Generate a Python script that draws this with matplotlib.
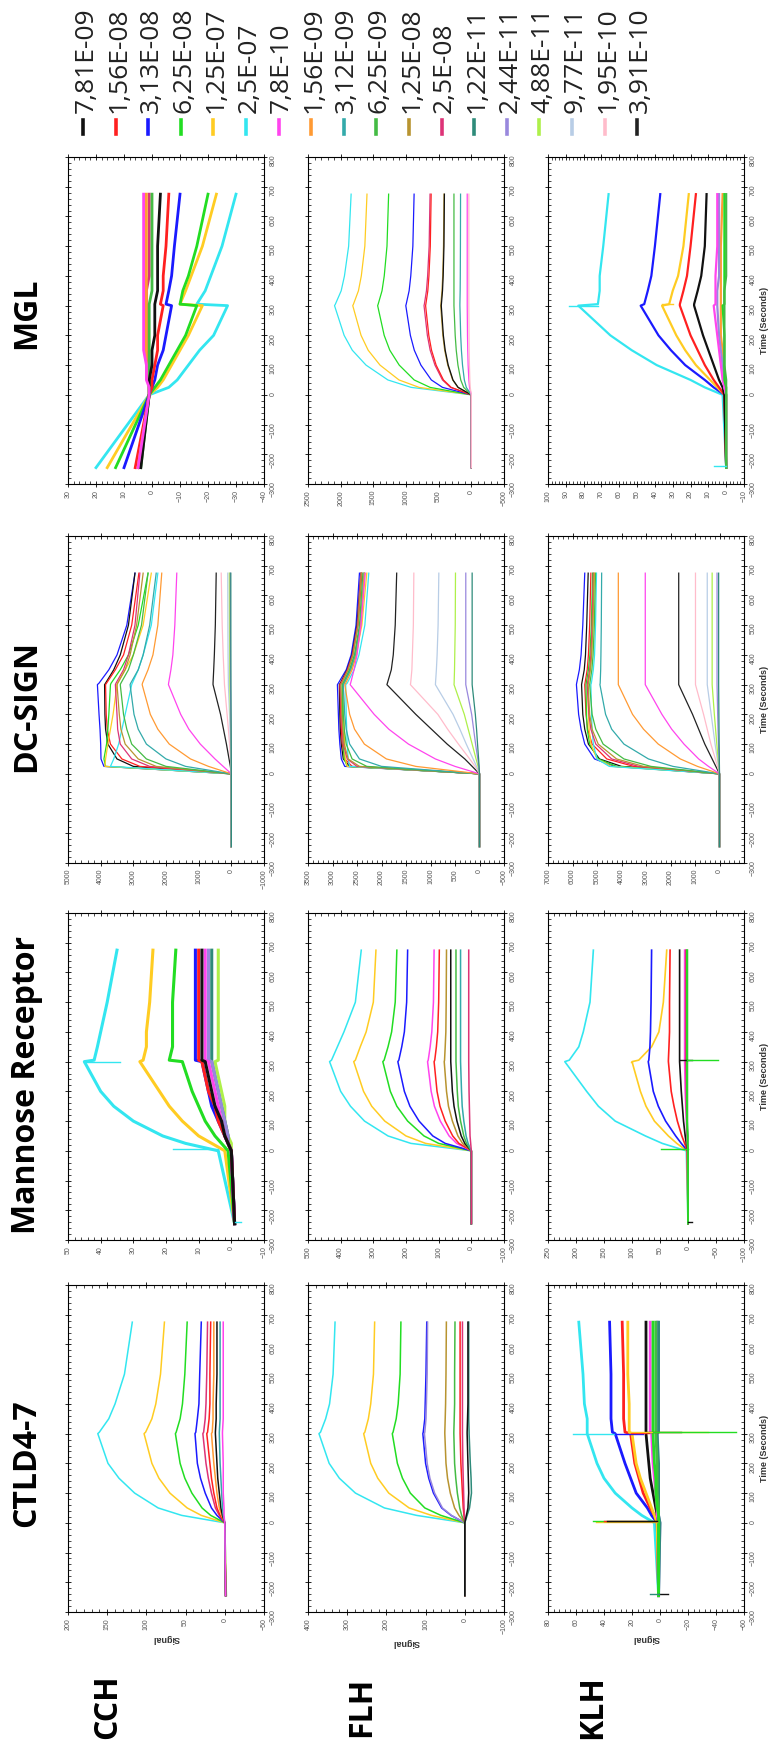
import matplotlib
matplotlib.use("Agg")
import matplotlib.pyplot as plt
from matplotlib.lines import Line2D
from matplotlib.ticker import MultipleLocator, AutoMinorLocator

plt.rcParams["font.family"] = ["Liberation Sans", "DejaVu Sans"]

FIG_W, FIG_H = 771, 1747

# sampling times (s) shared by every sensorgram
TIME = [-245, 0, 25, 50, 100, 150, 200, 300, 305, 350, 400, 500, 675]

conc_labels = ["7,81E-09", "1,56E-08", "3,13E-08", "6,25E-08", "1,25E-07", "2,5E-07",
               "7,8E-10", "1,56E-09", "3,12E-09", "6,25E-09", "1,25E-08", "2,5E-08",
               "1,22E-11", "2,44E-11", "4,88E-11", "9,77E-11", "1,95E-10", "3,91E-10"]
conc_colors = ["#111111", "#ff2020", "#1a1aff", "#22dd22", "#ffcc22", "#33e6f0",
               "#ff44ee", "#ff9a33", "#33aaaa", "#44bb44", "#b89430", "#dd3377",
               "#2e8b7a", "#9988dd", "#aef04a", "#b8cde6", "#ffbccb", "#222222"]

receptors = ["MGL", "DC-SIGN", "Mannose Receptor", "CTLD4-7"]
glycans = ["CCH", "FLH", "KLH"]

# signal axis (left value, right value) and labelled ticks per panel
signal_limits = {
    ("MGL", "CCH"): (30, -40), ("MGL", "FLH"): (2500, -500), ("MGL", "KLH"): (100, -10),
    ("DC-SIGN", "CCH"): (5000, -1000), ("DC-SIGN", "FLH"): (3500, -500), ("DC-SIGN", "KLH"): (7000, -1000),
    ("Mannose Receptor", "CCH"): (50, -10), ("Mannose Receptor", "FLH"): (500, -100),
    ("Mannose Receptor", "KLH"): (250, -100),
    ("CTLD4-7", "CCH"): (200, -50), ("CTLD4-7", "FLH"): (400, -100), ("CTLD4-7", "KLH"): (80, -60),
}
signal_ticks = {
    ("MGL", "CCH"): [30, 20, 10, 0, -10, -20, -30, -40],
    ("MGL", "FLH"): [2500, 2000, 1500, 1000, 500, 0, -500],
    ("MGL", "KLH"): [100, 90, 80, 70, 60, 50, 40, 30, 20, 10, 0, -10],
    ("DC-SIGN", "CCH"): [5000, 4000, 3000, 2000, 1000, 0, -1000],
    ("DC-SIGN", "FLH"): [3500, 3000, 2500, 2000, 1500, 1000, 500, 0, -500],
    ("DC-SIGN", "KLH"): [7000, 6000, 5000, 4000, 3000, 2000, 1000, 0],
    ("Mannose Receptor", "CCH"): [50, 40, 30, 20, 10, 0, -10],
    ("Mannose Receptor", "FLH"): [500, 400, 300, 200, 100, 0, -100],
    ("Mannose Receptor", "KLH"): [250, 200, 150, 100, 50, 0, -50, -100],
    ("CTLD4-7", "CCH"): [200, 150, 100, 50, 0, -50],
    ("CTLD4-7", "FLH"): [400, 300, 200, 100, 0, -100],
    ("CTLD4-7", "KLH"): [80, 60, 40, 20, 0, -20, -40, -60],
}

# sensorgrams: (concentration index, signal at each TIME point)
mgl_cch = [
    (5, [20, 1, -6, -9, -13, -17, -22, -27, -16, -19, -21, -25, -30]),
    (4, [16, 1, -2, -4, -7, -10, -13, -18, -10, -12, -14, -18, -23]),
    (3, [13, 1, -1, -3, -6, -9, -12, -16, -10, -11, -13, -16, -20]),
    (2, [10, 1, 0, -1, -2, -4, -5, -7, -5, -6, -7, -8, -10]),
    (1, [6, 1, 0, 0, -1, -2, -2, -4, -3, -4, -4, -5, -6]),
    (11, [5, 1, 1, 1, 1, 2, 2, 2, 2, 2, 1, 1, 1]),
    (7, [5, 1, 1, 1, 2, 2, 2, 2, 2, 2, 2, 2, 2]),
    (9, [4, 1, 1, 1, 1, 1, 1, 1, 1, 0, 0, 0, 0]),
    (0, [4, 1, 1, 1, 0, 0, -1, -1, -1, -2, -2, -2, -3]),
    (6, [5, 1, 1, 2, 2, 3, 3, 3, 3, 3, 3, 3, 3]),
]
mgl_flh = [
    (5, [0, 0, 921, 1277, 1612, 1822, 1947, 2094, 2081, 1992, 1942, 1878, 1840]),
    (4, [0, 0, 799, 1107, 1398, 1579, 1688, 1815, 1804, 1728, 1684, 1630, 1597]),
    (3, [0, 0, 631, 875, 1104, 1248, 1334, 1434, 1426, 1367, 1333, 1291, 1266]),
    (2, [0, 0, 441, 612, 772, 873, 933, 1003, 997, 952, 927, 895, 876]),
    (11, [0, 0, 319, 442, 557, 630, 673, 724, 719, 687, 669, 646, 632]),
    (1, [0, 0, 308, 427, 539, 609, 651, 700, 696, 666, 649, 628, 615]),
    (10, [0, 0, 206, 286, 361, 408, 436, 469, 466, 449, 438, 426, 418]),
    (0, [0, 0, 202, 281, 354, 400, 428, 460, 458, 441, 431, 419, 412]),
    (9, [0, 0, 117, 162, 205, 231, 247, 266, 266, 266, 266, 266, 266]),
    (8, [0, 0, 77, 107, 135, 152, 163, 175, 175, 171, 169, 167, 165]),
    (6, [0, 0, 28, 38, 49, 55, 59, 63, 63, 63, 63, 63, 63]),
    (16, [0, 0, 17, 23, 29, 33, 35, 38, 38, 38, 38, 38, 38]),
]
mgl_klh = [
    (5, [0, 2, 12, 20, 39, 53, 65, 83, 72, 71, 71, 69, 66]),
    (2, [0, 1, 7, 12, 23, 31, 38, 48, 46, 44, 42, 40, 37]),
    (4, [0, 1, 5, 9, 17, 23, 28, 36, 32, 30, 27, 24, 21]),
    (1, [0, 1, 4, 7, 12, 16, 20, 26, 26, 24, 22, 20, 17]),
    (0, [0, 1, 2, 4, 7, 10, 13, 18, 18, 16, 14, 12, 11]),
    (7, [0, 0, 1, 1, 2, 2, 3, 3, 3, 3, 3, 3, 2]),
    (13, [0, 0, 1, 1, 2, 3, 4, 5, 5, 5, 4, 4, 4]),
    (6, [0, 0, 1, 2, 3, 4, 5, 7, 6, 6, 6, 5, 5]),
    (3, [0, 0, 0, 1, 1, 1, 1, 2, 1, 1, 1, 1, 1]),
    (9, [0, 0, 0, 0, 1, 1, 1, 1, 1, 1, 0, 0, 0]),
]
dc_cch = [
    (2, [0, 0, 3900, 3990, 4000, 4020, 4050, 4100, 4050, 3750, 3500, 3200, 2950]),
    (0, [0, 0, 3000, 3500, 3780, 3850, 3870, 3880, 3850, 3600, 3400, 3150, 2950]),
    (1, [0, 0, 2800, 3350, 3700, 3800, 3830, 3850, 3820, 3550, 3300, 3050, 2830]),
    (3, [0, 0, 3850, 3900, 3820, 3780, 3750, 3700, 3680, 3400, 3150, 2850, 2550]),
    (4, [0, 0, 3870, 3850, 3780, 3700, 3620, 3500, 3480, 3250, 3000, 2700, 2450]),
    (5, [0, 0, 3700, 3600, 3450, 3350, 3250, 3050, 3030, 2850, 2700, 2450, 2250]),
    (11, [0, 0, 2500, 3050, 3400, 3480, 3500, 3550, 3530, 3300, 3150, 2950, 2800]),
    (10, [0, 0, 2300, 2850, 3250, 3380, 3430, 3500, 3480, 3250, 3100, 2900, 2700]),
    (9, [0, 0, 2000, 2600, 3050, 3200, 3300, 3400, 3380, 3150, 3000, 2750, 2550]),
    (8, [0, 0, 1400, 2000, 2600, 2850, 2980, 3100, 3080, 2850, 2700, 2500, 2300]),
    (7, [0, 0, 700, 1250, 1900, 2250, 2480, 2730, 2720, 2550, 2400, 2250, 2130]),
    (6, [0, 0, 250, 500, 950, 1300, 1550, 1925, 1920, 1850, 1790, 1730, 1670]),
    (17, [0, 0, 30, 70, 150, 240, 330, 560, 560, 540, 520, 490, 463]),
    (16, [0, 0, 10, 25, 55, 90, 130, 210, 212, 230, 250, 280, 310]),
    (15, [0, 0, 5, 10, 25, 40, 55, 90, 90, 95, 100, 105, 110]),
    (14, [0, 0, 3, 6, 12, 20, 28, 45, 45, 48, 50, 55, 60]),
    (13, [0, 0, 2, 4, 8, 12, 16, 25, 25, 27, 28, 30, 32]),
    (12, [0, 0, 1, 2, 4, 6, 8, 12, 12, 13, 14, 15, 16]),
]
dc_flh = [
    (2, [0, 0, 2750, 2820, 2850, 2870, 2880, 2900, 2880, 2720, 2620, 2520, 2450]),
    (0, [0, 0, 2650, 2780, 2820, 2840, 2850, 2860, 2840, 2700, 2600, 2500, 2420]),
    (1, [0, 0, 2600, 2750, 2800, 2820, 2830, 2850, 2830, 2690, 2590, 2480, 2400]),
    (3, [0, 0, 2700, 2760, 2780, 2790, 2800, 2800, 2780, 2650, 2550, 2430, 2350]),
    (4, [0, 0, 2700, 2740, 2750, 2760, 2770, 2780, 2760, 2620, 2520, 2400, 2300]),
    (5, [0, 0, 2650, 2680, 2700, 2710, 2720, 2730, 2700, 2560, 2460, 2340, 2260]),
    (11, [0, 0, 2500, 2700, 2780, 2800, 2820, 2840, 2820, 2690, 2590, 2490, 2420]),
    (10, [0, 0, 2450, 2680, 2760, 2790, 2810, 2830, 2810, 2680, 2580, 2480, 2410]),
    (9, [0, 0, 2300, 2600, 2720, 2760, 2780, 2800, 2780, 2650, 2550, 2450, 2380]),
    (8, [0, 0, 2000, 2450, 2650, 2720, 2750, 2780, 2760, 2630, 2530, 2430, 2360]),
    (7, [0, 0, 1300, 1900, 2350, 2550, 2650, 2750, 2730, 2600, 2510, 2420, 2350]),
    (6, [0, 0, 500, 900, 1450, 1850, 2150, 2640, 2630, 2560, 2500, 2420, 2330]),
    (17, [0, 0, 150, 300, 660, 980, 1300, 1890, 1880, 1800, 1760, 1720, 1690]),
    (16, [0, 0, 90, 200, 430, 650, 850, 1410, 1405, 1380, 1370, 1350, 1340]),
    (15, [0, 0, 60, 130, 270, 400, 540, 900, 898, 880, 865, 845, 830]),
    (14, [0, 0, 30, 70, 150, 230, 310, 520, 518, 510, 505, 495, 490]),
    (13, [0, 0, 15, 35, 80, 120, 160, 280, 280, 280, 280, 280, 280]),
    (12, [0, 0, 8, 18, 40, 60, 85, 150, 150, 150, 150, 150, 150]),
]
dc_klh = [
    (2, [0, 0, 4300, 5100, 5500, 5650, 5750, 5840, 5830, 5720, 5650, 5580, 5500]),
    (0, [0, 0, 4000, 4900, 5350, 5500, 5580, 5630, 5620, 5520, 5470, 5420, 5360]),
    (1, [0, 0, 3500, 4600, 5200, 5380, 5450, 5500, 5490, 5400, 5350, 5300, 5250]),
    (3, [0, 0, 4200, 4950, 5300, 5400, 5430, 5450, 5440, 5350, 5290, 5230, 5180]),
    (4, [0, 0, 4400, 5000, 5250, 5320, 5350, 5380, 5370, 5280, 5220, 5170, 5100]),
    (5, [0, 0, 4500, 5000, 5150, 5200, 5220, 5250, 5230, 5150, 5100, 5060, 5020]),
    (11, [0, 0, 3300, 4400, 5050, 5250, 5330, 5400, 5390, 5300, 5250, 5200, 5150]),
    (10, [0, 0, 3100, 4200, 4950, 5200, 5300, 5360, 5350, 5270, 5220, 5170, 5120]),
    (9, [0, 0, 2800, 3900, 4750, 5050, 5200, 5300, 5290, 5210, 5160, 5110, 5060]),
    (8, [0, 0, 1900, 2900, 3900, 4400, 4650, 4880, 4870, 4850, 4840, 4825, 4810]),
    (7, [0, 0, 900, 1600, 2500, 3100, 3550, 4130, 4130, 4130, 4130, 4130, 4130]),
    (6, [0, 0, 450, 850, 1450, 1950, 2350, 3030, 3030, 3030, 3030, 3030, 3030]),
    (17, [0, 0, 150, 300, 600, 850, 1100, 1665, 1665, 1665, 1665, 1665, 1665]),
    (16, [0, 0, 80, 170, 350, 500, 650, 980, 980, 980, 980, 980, 980]),
    (15, [0, 0, 40, 90, 180, 260, 340, 500, 500, 500, 500, 500, 500]),
    (14, [0, 0, 25, 55, 110, 160, 210, 300, 300, 300, 300, 300, 300]),
    (13, [0, 0, 10, 20, 40, 60, 75, 100, 100, 100, 100, 100, 100]),
    (12, [0, 0, 3, 7, 15, 20, 25, 35, 35, 35, 35, 35, 35]),
]
mr_cch = [
    (5, [-1, 4, 14, 21, 30, 36, 40, 45, 42, 41, 40, 38, 35]),
    (4, [-1, 2, 6, 10, 15, 19, 22, 28, 27, 26, 26, 25, 24]),
    (3, [-1, 1, 3, 5, 8, 10, 12, 15, 19, 18, 18, 18, 17]),
    (14, [-1, 0, 0, 1, 2, 2, 3, 5, 4, 4, 4, 4, 4]),
    (12, [-1, 0, 1, 1, 2, 3, 4, 6, 6, 6, 6, 6, 6]),
    (13, [-1, 0, 1, 1, 2, 3, 4, 6, 7, 7, 7, 7, 7]),
    (6, [-1, 0, 1, 2, 3, 4, 5, 7, 8, 8, 8, 8, 8]),
    (2, [-1, 0, 1, 2, 4, 6, 7, 9, 11, 11, 11, 11, 11]),
    (1, [-1, 0, 1, 2, 4, 5, 7, 9, 10, 10, 10, 10, 10]),
    (0, [-1, 0, 1, 2, 3, 5, 6, 8, 9, 9, 9, 9, 9]),
]
mr_flh = [
    (5, [0, 0, 185, 255, 327, 370, 400, 434, 428, 410, 390, 355, 337]),
    (4, [0, 0, 140, 200, 265, 305, 330, 360, 355, 340, 322, 300, 292]),
    (3, [0, 0, 100, 145, 195, 228, 248, 271, 267, 255, 244, 233, 228]),
    (2, [0, 0, 80, 118, 160, 188, 205, 225, 222, 213, 205, 198, 195]),
    (6, [0, 0, 45, 68, 95, 113, 123, 134, 132, 126, 121, 116, 114]),
    (1, [0, 0, 38, 57, 80, 96, 105, 114, 112, 107, 103, 100, 98]),
    (10, [0, 0, 27, 41, 58, 70, 76, 83, 82, 80, 78, 77, 76]),
    (0, [0, 0, 20, 31, 44, 53, 58, 63, 63, 63, 63, 63, 63]),
    (9, [0, 0, 15, 23, 33, 40, 43, 47, 47, 47, 47, 47, 47]),
    (8, [0, 0, 10, 16, 23, 28, 30, 33, 33, 33, 33, 33, 33]),
    (11, [0, 0, 2, 4, 5, 6, 7, 8, 8, 8, 8, 8, 8]),
]
mr_klh = [
    (5, [0, 3, 46, 76, 130, 160, 181, 220, 212, 195, 187, 175, 169]),
    (4, [0, 2, 20, 35, 60, 75, 85, 100, 88, 65, 52, 44, 38]),
    (2, [0, 1, 12, 22, 40, 53, 62, 71, 70, 68, 67, 66, 65]),
    (1, [0, 1, 6, 11, 19, 25, 30, 35, 35, 34, 33, 33, 32]),
    (0, [0, 0, 3, 5, 8, 10, 12, 15, 15, 15, 15, 15, 15]),
    (6, [0, 0, 1, 2, 3, 4, 5, 6, 6, 6, 6, 6, 6]),
    (11, [0, 0, 1, 1, 2, 3, 3, 4, 4, 4, 4, 4, 4]),
    (9, [0, 0, 0, 0, 1, 1, 1, 1, 1, 1, 1, 1, 1]),
    (3, [0, 0, 1, 1, 2, 2, 2, 2, 2, 2, 2, 2, 2]),
]
ctld_cch = [
    (5, [-2, 0, 55, 85, 115, 135, 149, 162, 160, 148, 140, 128, 118]),
    (4, [-2, 0, 30, 48, 70, 84, 93, 103, 101, 93, 88, 82, 77]),
    (3, [-1, 0, 18, 29, 42, 51, 57, 63, 62, 57, 54, 51, 48]),
    (2, [-1, 0, 10, 17, 25, 31, 35, 38, 37, 35, 33, 32, 30]),
    (11, [-1, 0, 7, 12, 17, 21, 24, 28, 27, 25, 24, 23, 22]),
    (1, [-1, 0, 6, 10, 14, 17, 19, 23, 22, 20, 19, 19, 18]),
    (7, [-1, 0, 4, 7, 10, 12, 14, 17, 16, 15, 15, 14, 14]),
    (0, [-1, 0, 3, 5, 7, 9, 10, 12, 12, 11, 11, 10, 10]),
    (8, [-1, 0, 2, 3, 4, 5, 6, 7, 7, 6, 6, 6, 6]),
    (6, [-1, 0, 1, 1, 2, 2, 2, 3, 3, 2, 2, 2, 2]),
]
ctld_flh = [
    (5, [0, 0, 123, 205, 279, 320, 346, 372, 368, 355, 345, 336, 331]),
    (4, [0, 0, 85, 142, 194, 222, 240, 258, 255, 246, 240, 233, 230]),
    (3, [0, 0, 61, 102, 139, 159, 172, 185, 183, 175, 170, 165, 163]),
    (2, [0, 0, 35, 59, 80, 92, 100, 107, 106, 102, 101, 99, 97]),
    (13, [0, 0, 34, 57, 77, 89, 96, 103, 102, 99, 98, 96, 95]),
    (10, [0, 0, 15, 26, 37, 44, 48, 51, 51, 50, 49, 48, 47]),
    (9, [0, 0, 8, 13, 19, 23, 26, 28, 28, 27, 26, 26, 25]),
    (1, [0, 0, 2, 4, 6, 8, 10, 12, 12, 12, 12, 12, 12]),
    (11, [0, 0, 1, 2, 3, 4, 5, 6, 6, 6, 6, 6, 6]),
    (12, [0, 0, -6, -12, -17, -16, -14, -11, -11, -10, -10, -10, -10]),
    (0, [0, 0, -4, -8, -10, -9, -8, -6, -6, -7, -8, -8, -8]),
]
ctld_klh = [
    (5, [1, 4, 13, 20, 32, 40, 45, 52, 52, 52, 54, 55, 58]),
    (2, [1, 2, 6, 9, 17, 21, 25, 32, 34, 35, 35, 35, 36]),
    (1, [1, 2, 4, 7, 12, 15, 18, 21, 25, 26, 26, 26, 27]),
    (4, [1, 2, 4, 6, 10, 14, 17, 20, 22, 22, 22, 23, 23]),
    (0, [1, 1, 2, 3, 5, 7, 8, 10, 10, 10, 10, 10, 10]),
    (6, [1, 1, 2, 2, 3, 4, 5, 6, 7, 7, 7, 7, 7]),
    (13, [1, 0, 1, 1, 1, 2, 2, 2, 2, 2, 2, 2, 2]),
    (12, [1, 0, 1, 1, 1, 1, 1, 2, 1, 1, 1, 1, 1]),
    (9, [1, 1, 1, 1, 2, 2, 2, 3, 3, 3, 3, 3, 3]),
    (3, [1, 1, 1, 2, 3, 3, 4, 5, 5, 5, 5, 5, 5]),
]

# injection artefacts: (concentration index, time, signal from, signal to)
mgl_klh_spikes = [(5, 300, 72, 88), (5, -240, 0, 7), (4, 305, 36, 30)]
mr_cch_spikes = [(5, 5, 4, 18), (5, 300, 45, 34), (5, -240, -1, -3)]
mr_klh_spikes = [(3, 5, 0, 48), (4, 300, 100, 102), (0, 305, 15, -8),
                 (3, 305, 2, -53), (0, -240, 0, -8)]
ctld_klh_spikes = [(4, 4, 2, 46), (3, 5, 2, 48), (1, 6, 2, 40), (0, 6, 2, 38),
                   (5, 300, 62, 32), (2, 300, 32, 12), (1, 302, 21, 8),
                   (0, 305, 10, -15), (4, 306, 22, -34), (3, 307, 5, -54),
                   (0, -240, 1, -6), (12, -238, 1, 7)]

curves = {
    ("MGL", "CCH"): mgl_cch, ("MGL", "FLH"): mgl_flh, ("MGL", "KLH"): mgl_klh,
    ("DC-SIGN", "CCH"): dc_cch, ("DC-SIGN", "FLH"): dc_flh, ("DC-SIGN", "KLH"): dc_klh,
    ("Mannose Receptor", "CCH"): mr_cch, ("Mannose Receptor", "FLH"): mr_flh,
    ("Mannose Receptor", "KLH"): mr_klh,
    ("CTLD4-7", "CCH"): ctld_cch, ("CTLD4-7", "FLH"): ctld_flh, ("CTLD4-7", "KLH"): ctld_klh,
}
spikes = {
    ("MGL", "KLH"): mgl_klh_spikes,
    ("Mannose Receptor", "CCH"): mr_cch_spikes,
    ("Mannose Receptor", "KLH"): mr_klh_spikes,
    ("CTLD4-7", "KLH"): ctld_klh_spikes,
}

# noisy sensorgrams are drawn as thicker traces
line_width = {
    ("MGL", "CCH"): 2.0, ("MGL", "KLH"): 1.6,
    ("Mannose Receptor", "CCH"): 2.2, ("Mannose Receptor", "FLH"): 1.1,
    ("Mannose Receptor", "KLH"): 1.2,
    ("CTLD4-7", "CCH"): 1.1, ("CTLD4-7", "FLH"): 1.1, ("CTLD4-7", "KLH"): 2.0,
}

# layout in pixels
col_left = [68, 308, 548]
row_top = [157, 536, 913, 1285]
panel_w, panel_h = 196, 327
header_y = [313, 706, 1085, 1463]
glycan_x = [108, 362, 593]


def fx(x):
    return x / FIG_W


def fy(y):
    return 1 - y / FIG_H


fig = plt.figure(figsize=(FIG_W / 100, FIG_H / 100), dpi=100)
fig.patch.set_facecolor("white")

for r, rec in enumerate(receptors):
    for c, gly in enumerate(glycans):
        key = (rec, gly)
        ax = fig.add_axes([fx(col_left[c]), fy(row_top[r] + panel_h),
                           panel_w / FIG_W, panel_h / FIG_H])
        lw = line_width.get(key, 0.9)
        for idx, vals in curves[key]:
            ax.plot(vals, TIME, color=conc_colors[idx], lw=lw, solid_joinstyle="round")
        for idx, t, a, b in spikes.get(key, []):
            ax.plot([a, b], [t, t], color=conc_colors[idx], lw=1.0)

        ax.set_xlim(*signal_limits[key])
        ax.set_ylim(-300, 800)
        ax.set_xticks(signal_ticks[key])
        ax.xaxis.set_minor_locator(AutoMinorLocator(5))
        ax.yaxis.set_major_locator(MultipleLocator(100))
        ax.yaxis.set_minor_locator(MultipleLocator(20))
        ax.tick_params(which="both", top=True, bottom=True, left=True, right=True,
                       labelleft=False, labelright=True, labelbottom=True, labeltop=False)
        ax.tick_params(which="major", direction="inout", length=4.5, width=0.6)
        ax.tick_params(which="minor", direction="in", length=2, width=0.5)
        ax.tick_params(axis="both", labelrotation=90, labelsize=5, labelcolor="#555555", pad=2)
        for sp in ax.spines.values():
            sp.set_linewidth(0.8)
        if c == 2:
            ax.yaxis.set_label_position("right")
            ax.set_ylabel("Time (Seconds)", fontsize=6.5, fontweight="bold",
                          color="#333333", labelpad=2)
        if r == 3:
            ax.set_xlabel("Signal", rotation=180, fontsize=6.5, fontweight="bold",
                          color="#333333", labelpad=3)

# receptor headers down the left edge
for rec, yc in zip(receptors, header_y):
    fig.text(fx(27), fy(yc), rec, rotation=90, ha="center", va="center",
             fontsize=23, fontweight="bold", family="Open Sans")

# glycoprotein labels along the bottom
for gly, xc in zip(glycans, glycan_x):
    fig.text(fx(xc), fy(1707), gly, rotation=90, ha="center", va="center",
             fontsize=23, fontweight="bold", family="Open Sans")

# concentration key across the top
for i, (lab, col) in enumerate(zip(conc_labels, conc_colors)):
    x = 83 + 32.6 * i
    fig.add_artist(Line2D([fx(x), fx(x)], [fy(120), fy(134)], color=col, lw=2.6,
                          transform=fig.transFigure))
    fig.text(fx(x + 3), fy(113), lab, rotation=90, ha="center", va="bottom",
             fontsize=19, family="Open Sans", color="#222222")

fig.savefig("out.png", dpi=100)
